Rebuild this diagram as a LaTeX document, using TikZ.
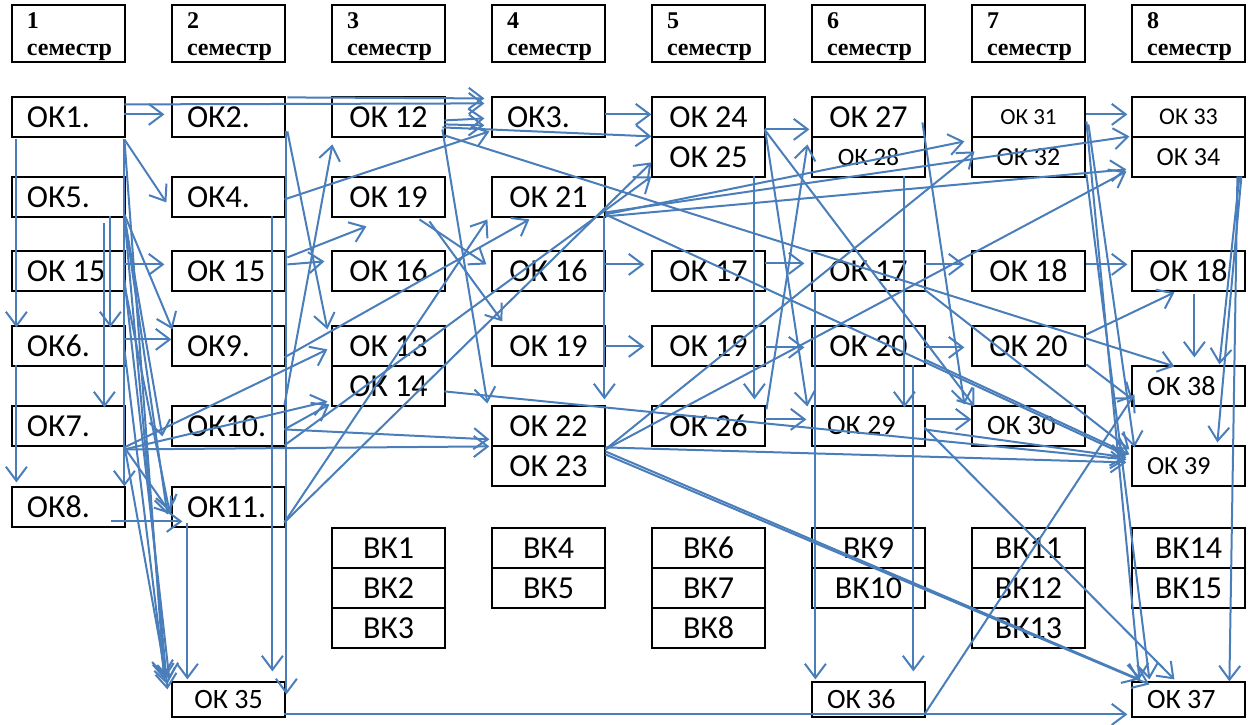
\documentclass[tikz,border=0pt]{standalone}
\usepackage{fontspec}
\setmainfont{Carlito}
\newfontfamily\hfont{Liberation Serif}
\usetikzlibrary{arrows.meta}
\definecolor{ln}{HTML}{4A7EBB}
\newcommand\pp[3]{([xshift={(#2)*1pt},yshift={-(#3)*1pt}]#1.north west)}
\newcommand\fs[1]{\fontsize{#1}{#1}\selectfont}
\begin{document}
\begin{tikzpicture}[x=1pt,y=-1pt,
  box/.style={draw, line width=1.2pt, minimum width=113pt, minimum height=40pt, inner sep=0pt, font=\fs{32}},
  bot/.style={box, minimum height=35pt, font=\fs{28}},
  lt/.style={text width=83pt, align=flush left},
  hdr/.style={draw, line width=1.2pt, minimum width=113pt, minimum height=57pt, inner sep=0pt, text width=83pt, align=flush left, text height=23pt, text depth=34pt, font=\hfont\bfseries\fontsize{24}{27}\selectfont},
  ar/.style={draw=ln, line width=2pt, -{Straight Barb[length=14pt,width=21pt,line width=2pt]}}]
\useasboundingbox (0,0) rectangle (1248,724);
% headers
\foreach \i/\c in {1/68.5,2/228.5,3/388.5,4/548.5,5/708.5,6/868.5,7/1028.5,8/1188.5}
  \node[hdr] (h\i) at (\c,33.5) {\i\\семестр};
% column 1
\node[box,lt] (ok1) at (68.5,117) {ОК1.};
\node[box,lt] (ok5) at (68.5,197) {ОК5.};
\node[box,lt] (ok15a) at (68.5,271) {ОК 15};
\node[box,lt] (ok6) at (68.5,346) {ОК6.};
\node[box,lt] (ok7) at (68.5,426) {ОК7.};
\node[box,lt] (ok8) at (68.5,507) {ОК8.};
% column 2
\node[box,lt] (ok2) at (228.5,117) {ОК2.};
\node[box,lt] (ok4) at (228.5,197) {ОК4.};
\node[box,lt] (ok15b) at (228.5,271) {ОК 15};
\node[box,lt] (ok9) at (228.5,346) {ОК9.};
\node[box,lt] (ok10) at (228.5,426) {ОК10.};
\node[box,lt] (ok11) at (228.5,507) {ОК11.};
\node[bot] (ok35) at (228.5,699.5) {ОК 35};
% column 3
\node[box] (ok12) at (388.5,117) {ОК 12};
\node[box] (ok19a) at (388.5,197) {ОК 19};
\node[box] (ok16a) at (388.5,271) {ОК 16};
\node[box] (ok13) at (388.5,346) {ОК 13};
\node[box] (ok14) at (388.5,386) {ОК 14};
\node[box] (vk1) at (388.5,548) {ВК1};
\node[box] (vk2) at (388.5,588) {ВК2};
\node[box] (vk3) at (388.5,628) {ВК3};
% column 4
\node[box,lt] (ok3) at (548.5,117) {ОК3.};
\node[box] (ok21) at (548.5,197) {ОК 21};
\node[box] (ok16b) at (548.5,271) {ОК 16};
\node[box] (ok19b) at (548.5,346) {ОК 19};
\node[box] (ok22) at (548.5,426) {ОК 22};
\node[box] (ok23) at (548.5,466) {ОК 23};
\node[box] (vk4) at (548.5,548) {ВК4};
\node[box] (vk5) at (548.5,588) {ВК5};
% column 5
\node[box] (ok24) at (708.5,117) {ОК 24};
\node[box] (ok25) at (708.5,157) {ОК 25};
\node[box] (ok17a) at (708.5,271) {ОК 17};
\node[box] (ok19c) at (708.5,346) {ОК 19};
\node[box] (ok26) at (708.5,426) {ОК 26};
\node[box] (vk6) at (708.5,548) {ВК6};
\node[box] (vk7) at (708.5,588) {ВК7};
\node[box] (vk8) at (708.5,628) {ВК8};
% column 6
\node[box] (ok27) at (868.5,117) {ОК 27};
\node[box,font=\fs{25}] (ok28) at (868.5,157) {ОК 28};
\node[box] (ok17b) at (868.5,271) {ОК 17};
\node[box] (ok20a) at (868.5,346) {ОК 20};
\node[box,lt,font=\fs{28}] (ok29) at (868.5,426) {ОК 29};
\node[box] (vk9) at (868.5,548) {ВК9};
\node[box] (vk10) at (868.5,588) {ВК10};
\node[bot,lt] (ok36) at (868.5,699.5) {ОК 36};
% column 7
\node[box,font=\fs{23}] (ok31) at (1028.5,117) {ОК 31};
\node[box,font=\fs{26}] (ok32) at (1028.5,157) {ОК 32};
\node[box] (ok18a) at (1028.5,271) {ОК 18};
\node[box] (ok20b) at (1028.5,346) {ОК 20};
\node[box,lt,font=\fs{28}] (ok30) at (1028.5,426) {ОК 30};
\node[box] (vk11) at (1028.5,548) {ВК11};
\node[box] (vk12) at (1028.5,588) {ВК12};
\node[box] (vk13) at (1028.5,628) {ВК13};
% column 8
\node[box,font=\fs{24}] (ok33) at (1188.5,117) {ОК 33};
\node[box,font=\fs{26}] (ok34) at (1188.5,157) {ОК 34};
\node[box] (ok18b) at (1188.5,271) {ОК 18};
\node[box,lt,font=\fs{28}] (ok38) at (1188.5,386) {ОК 38};
\node[box,lt,font=\fs{26}] (ok39) at (1188.5,466) {ОК 39};
\node[box] (vk14) at (1188.5,548) {ВК14};
\node[box] (vk15) at (1188.5,588) {ВК15};
\node[bot,lt] (ok37) at (1188.5,699.5) {ОК 37};
% short horizontal arrows
\draw[ar] \pp{ok1}{113}{18} -- \pp{ok2}{-7}{18};
\draw[ar] \pp{ok1}{113}{8} -- \pp{ok3}{-7}{7};
\draw[ar] \pp{ok2}{116}{1} -- \pp{ok3}{-7}{2};
\draw[ar] \pp{ok12}{113}{24} -- \pp{ok3}{-7}{22};
\draw[ar] \pp{ok12}{113}{28} -- \pp{ok3}{-7}{29};
\draw[ar] \pp{ok12}{111}{31} -- \pp{ok25}{0}{0};
\draw[ar] \pp{ok3}{114}{18} -- \pp{ok24}{0}{18};
\draw[ar] \pp{ok24}{114}{33} -- \pp{ok27}{-2}{33};
\draw[ar] \pp{ok31}{115}{18} -- \pp{ok33}{-4}{18};
\draw[ar] \pp{ok15a}{113}{14} -- \pp{ok15b}{-7}{14};
\draw[ar] \pp{ok15b}{116}{14} -- \pp{ok16a}{-7}{11};
\draw[ar] \pp{ok16b}{114}{14} -- \pp{ok17a}{-7}{14};
\draw[ar] \pp{ok17a}{114}{13} -- \pp{ok17b}{-7}{13};
\draw[ar] \pp{ok17b}{113}{14} -- \pp{ok18a}{-7}{14};
\draw[ar] \pp{ok18a}{115}{14} -- \pp{ok18b}{-4}{14};
\draw[ar] \pp{ok6}{113}{14} -- \pp{ok9}{0}{14};
\draw[ar] \pp{ok19b}{114}{21} -- \pp{ok19c}{-7}{21};
\draw[ar] \pp{ok19c}{114}{22} -- \pp{ok20a}{-7}{22};
\draw[ar] \pp{ok20a}{113}{22} -- \pp{ok20b}{-7}{22};
\draw[ar] \pp{ok26}{114}{14} -- \pp{ok29}{-5}{14};
\draw[ar] \pp{ok29}{113}{14} -- \pp{ok30}{0}{14};
\draw[ar] \pp{ok8}{100}{35} -- \pp{ok11}{11}{35};
% verticals
\draw[ar] \pp{ok11}{16}{37} -- \pp{ok35}{16}{-2};
\draw[ar] \pp{ok1}{5}{43} -- \pp{ok6}{5}{2};
\draw[ar] \pp{ok5}{99}{40} -- \pp{ok6}{99}{2};
\draw[ar] \pp{ok5}{93}{47} -- \pp{ok7}{93}{2};
\draw[ar] \pp{ok6}{5}{40} -- \pp{ok8}{5}{-4};
\draw[ar] \pp{ok1}{113}{43} -- \pp{ok8}{113}{0};
\draw[ar] \pp{ok2}{115}{35} -- \pp{ok35}{115}{13};
\draw[ar] \pp{ok4}{101}{40} -- \pp{ok35}{101}{-10};
\draw[ar] \pp{ok21}{113}{40} -- \pp{ok22}{113}{-6};
\draw[ar] \pp{ok25}{103}{40} -- \pp{ok26}{103}{-6};
\draw[ar] \pp{ok28}{93}{40} -- \pp{ok29}{93}{2};
\draw[ar] \pp{ok17b}{4}{41} -- \pp{ok36}{4}{-2};
\draw[ar] \pp{ok20a}{102}{40} -- \pp{ok36}{102}{-10};
\draw[ar] \pp{ok18b}{63}{44} -- \pp{ok38}{63}{-8};
\draw[ar] \pp{ok34}{108}{40} -- \pp{ok38}{88}{-1};
\draw[ar] \pp{ok34}{110}{40} -- \pp{ok39}{86}{-3};
\draw[ar] \pp{ok34}{106}{40} -- \pp{ok37}{98}{0};
% long lines
\draw[ar] \pp{ok12}{113}{39} -- \pp{ok38}{43}{1};
\draw[ar] \pp{ok12}{111}{33} -- \pp{ok22}{-4}{-2};
\draw[ar] \pp{ok14}{113}{26} -- \pp{ok39}{-5}{14};
\draw[ar] \pp{ok35}{113}{33} -- \pp{ok37}{-4}{33};
\draw[ar] \pp{ok7}{113}{44} -- \pp{ok23}{-2}{1};
\draw[ar] \pp{ok10}{113}{24} -- \pp{ok23}{-2}{-6};
% diagonals, left part
\draw[ar] \pp{ok1}{113}{43} -- \pp{ok4}{-5}{26};
\draw[ar] \pp{ok5}{113}{38} -- \pp{ok9}{1}{4};
\draw[ar] \pp{ok5}{113}{40} -- \pp{ok10}{-9}{31};
\draw[ar] \pp{ok5}{113}{40} -- \pp{ok11}{-4}{28};
\draw[ar] \pp{ok15a}{113}{34} -- \pp{ok11}{-2}{25};
\draw[ar] \pp{ok7}{113}{42} -- \pp{ok11}{0}{28};
\draw[ar] \pp{ok1}{113}{43} -- \pp{ok35}{-7}{-2};
\draw[ar] \pp{ok5}{113}{40} -- \pp{ok35}{-4}{8};
\draw[ar] \pp{ok15a}{113}{29} -- \pp{ok35}{-2}{-2};
\draw[ar] \pp{ok6}{113}{24} -- \pp{ok35}{-7}{-5};
\draw[ar] \pp{ok7}{113}{40} -- \pp{ok35}{-4}{3};
\draw[ar] \pp{ok2}{116}{35} -- \pp{ok13}{-4}{4};
\draw[ar] \pp{ok4}{113}{23} -- \pp{ok3}{-2}{35};
\draw[ar] \pp{ok15b}{116}{7} -- \pp{ok19a}{35}{50};
\draw[ar] \pp{ok19a}{88}{43} -- \pp{ok16b}{-5}{14};
\draw[ar] \pp{ok19a}{98}{45} -- \pp{ok19b}{11}{-4};
\draw[ar] \pp{ok10}{113}{24} -- \pp{ok14}{-2}{39};
\draw[ar] \pp{ok7}{113}{44} -- \pp{ok14}{-4}{36};
\draw[ar] \pp{ok7}{113}{42} -- \pp{ok13}{-4}{24};
\draw[ar] \pp{ok10}{113}{0} -- \pp{ok12}{1}{48};
\draw[ar] \pp{ok11}{113}{36} -- \pp{ok21}{-4}{43};
\draw[ar] \pp{ok11}{113}{36} -- \pp{ok25}{0}{26};
\draw[ar] \pp{ok10}{113}{40} -- \pp{ok25}{0}{40};
\draw[ar] \pp{ok9}{113}{32} -- \pp{ok21}{38}{43};
% diagonals, right part
\draw[ar] \pp{ok26}{115}{4} -- \pp{ok28}{-4}{8};
\draw[ar] \pp{ok24}{113}{33} -- \pp{ok30}{3}{1};
\draw[ar] \pp{ok24}{114}{35} -- \pp{ok29}{-4}{1};
\draw[ar] \pp{ok27}{111}{26} -- \pp{ok30}{-7}{-1};
\draw[ar] \pp{ok21}{114}{38} -- \pp{ok32}{-7}{5};
\draw[ar] \pp{ok23}{114}{4} -- \pp{ok32}{3}{15};
\draw[ar] \pp{ok21}{114}{40} -- \pp{ok34}{-5}{33};
\draw[ar] \pp{ok23}{114}{4} -- \pp{ok34}{-5}{35};
\draw[ar] \pp{ok21}{114}{36} -- \pp{ok34}{-2}{0};
\draw[ar] \pp{ok21}{114}{38} -- \pp{ok39}{-5}{10};
\draw[ar] \pp{ok23}{114}{2} -- \pp{ok39}{-5}{17};
\draw[ar] \pp{ok23}{114}{6} -- \pp{ok37}{8}{-2};
\draw[ar] \pp{ok23}{114}{9} -- \pp{ok37}{18}{3};
\draw[ar] \pp{ok29}{113}{22} -- \pp{ok37}{43}{-2};
\draw[ar] \pp{ok29}{113}{24} -- \pp{ok39}{-5}{12};
\draw[ar] \pp{ok31}{115}{25} -- \pp{ok37}{8}{-2};
\draw[ar] \pp{ok31}{117}{28} -- \pp{ok39}{3}{2};
\draw[ar] \pp{ok32}{115}{38} -- \pp{ok37}{18}{-2};
\draw[ar] \pp{ok36}{113}{33} -- \pp{ok38}{3}{29};
\draw[ar] \pp{ok17b}{113}{39} -- \pp{ok39}{-2}{4};
\draw[ar] \pp{ok20a}{113}{34} -- \pp{ok39}{-2}{9};
\draw[ar] \pp{ok20b}{115}{9} -- \pp{ok18b}{43}{42};
\draw[ar] \pp{ok20b}{115}{39} -- \pp{ok38}{1}{34};
\end{tikzpicture}
\end{document}
